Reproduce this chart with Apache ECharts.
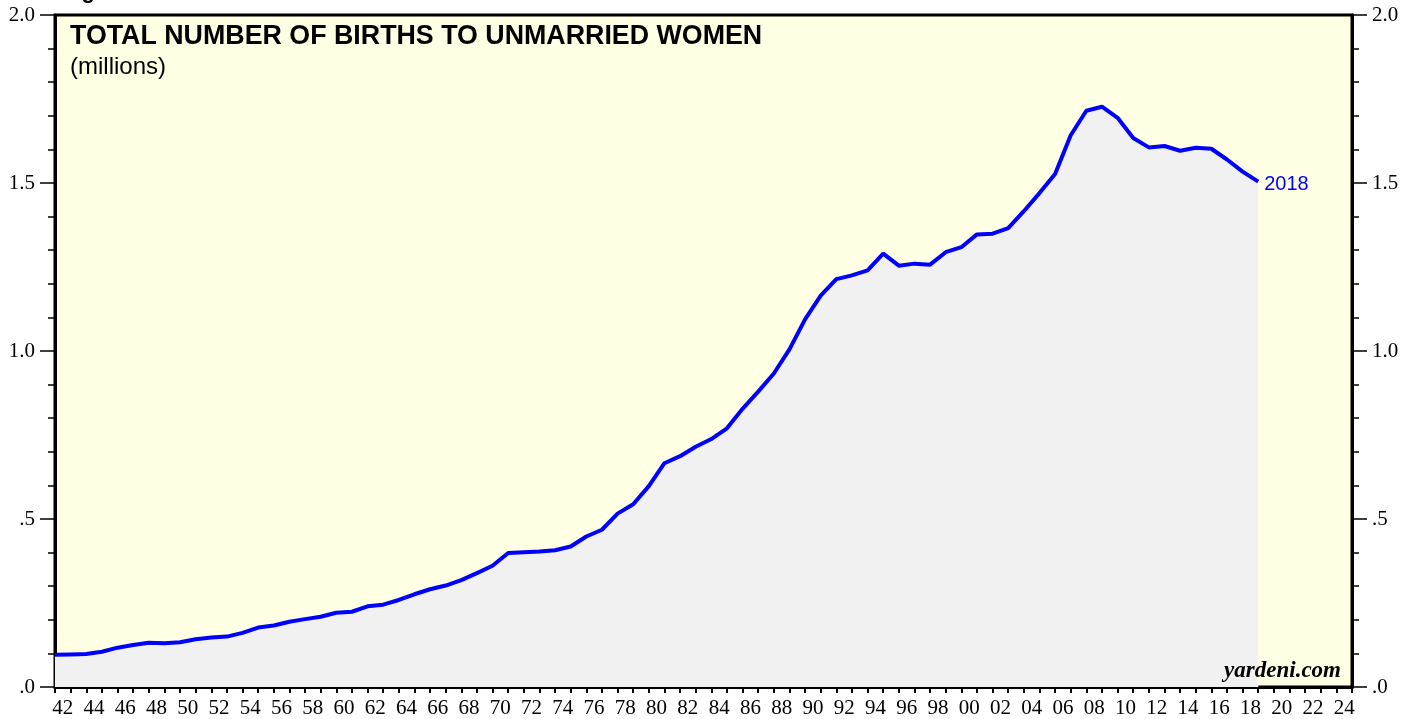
<!DOCTYPE html>
<html><head><meta charset="utf-8">
<script src="https://cdn.jsdelivr.net/npm/echarts@6/dist/echarts.min.js"></script>
<style>html,body{margin:0;padding:0;background:#fff}#c{width:1417px;height:719px}</style>
</head><body><div id="c"></div>
<script>
// Annual data, 1941-2018 (millions)
const years = [];
for (let y = 1941; y <= 2018; y++) years.push(y);
const births = [
  0.096, 0.097, 0.098, 0.105, 0.117, 0.125, 0.132, 0.130, 0.133, 0.142,
  0.147, 0.150, 0.161, 0.177, 0.183, 0.194, 0.202, 0.209, 0.221, 0.224,
  0.240, 0.245, 0.259, 0.276, 0.291, 0.302, 0.318, 0.339, 0.361, 0.399,
  0.401, 0.403, 0.407, 0.418, 0.448, 0.468, 0.516, 0.544, 0.598, 0.666,
  0.687, 0.715, 0.738, 0.770, 0.828, 0.879, 0.933, 1.005, 1.094, 1.165,
  1.214, 1.225, 1.240, 1.290, 1.254, 1.260, 1.257, 1.294, 1.309, 1.347,
  1.349, 1.366, 1.416, 1.470, 1.527, 1.642, 1.715, 1.727, 1.694, 1.634,
  1.606, 1.610, 1.596, 1.605, 1.602, 1.570, 1.534, 1.504
];
// Tick label categories (each year slot)
const tickYears = [];
for (let y = 1942; y <= 2024; y++) tickYears.push(String(y));
const yTickLabels = {0: '.0', 0.5: '.5', 1: '1.0', 1.5: '1.5', 2: '2.0'};
const titleText = 'TOTAL NUMBER OF BIRTHS TO UNMARRIED WOMEN';
const unitText = '(millions)';
const endText = '2018';
const sourceText = 'yardeni.com';

const chart = echarts.init(document.getElementById('c'), null, {renderer: 'canvas'});
const serif = '"Liberation Serif", "Times New Roman", serif';
const sans = '"Liberation Sans", Arial, sans-serif';
const yAxisCommon = {
  type: 'value', min: 0, max: 2, interval: 0.5,
  splitLine: {show: false},
  axisLine: {show: true, lineStyle: {color: '#000', width: 3}},
  axisTick: {show: true, length: 15, lineStyle: {color: '#000', width: 1.5}},
  minorTick: {show: true, splitNumber: 5, length: 7, lineStyle: {color: '#000', width: 1.5}},
  axisLabel: {
    margin: 20, color: '#000', fontFamily: serif, fontSize: 21,
    formatter: v => yTickLabels[Math.round(v * 10) / 10] ?? ''
  }
};
chart.setOption({
  animation: false,
  backgroundColor: '#fff',
  grid: {left: 55, right: 65, top: 15, bottom: 32, show: true,
         backgroundColor: '#ffffe3', borderColor: '#000', borderWidth: 3},
  xAxis: [
    {
      type: 'category', data: tickYears, boundaryGap: true, position: 'bottom',
      axisLine: {show: true, lineStyle: {color: '#000', width: 3}},
      axisTick: {show: true, interval: 0, length: 6, lineStyle: {color: '#000', width: 2}},
      axisLabel: {interval: 1, margin: 11, color: '#000', fontFamily: serif, fontSize: 21,
                  formatter: v => v.slice(2)},
      splitLine: {show: false}
    },
    {type: 'value', min: 1941, max: 2024, show: false}
  ],
  yAxis: [
    Object.assign({position: 'left'}, yAxisCommon),
    Object.assign({position: 'right'}, yAxisCommon)
  ],
  series: [{
    type: 'line', xAxisIndex: 1, yAxisIndex: 0,
    data: years.map((y, i) => [y, births[i]]),
    showSymbol: false, symbol: 'none',
    lineStyle: {color: '#0000ff', width: 4},
    areaStyle: {color: '#f1f1f1', opacity: 1},
    endLabel: {show: true, formatter: endText, color: '#0000ff',
               fontFamily: sans, fontSize: 20, distance: 6, offset: [0, 3]},
    z: 3
  }],
  graphic: [
    {type: 'text', left: 70, top: 23, z: 10,
     style: {text: titleText, font: 'bold 26.8px ' + sans, fill: '#000'}},
    {type: 'text', left: 70, top: 55, z: 10,
     style: {text: unitText, font: '24px ' + sans, fill: '#000'}},
    {type: 'text', right: 76, top: 660, z: 10,
     style: {text: sourceText, font: 'italic bold 23px ' + serif, fill: '#000'}},
    {type: 'text', left: 62, top: -19, z: 10,
     style: {text: 'Figure', font: 'bold 22px ' + sans, fill: '#000'}}
  ]
});
</script></body></html>
